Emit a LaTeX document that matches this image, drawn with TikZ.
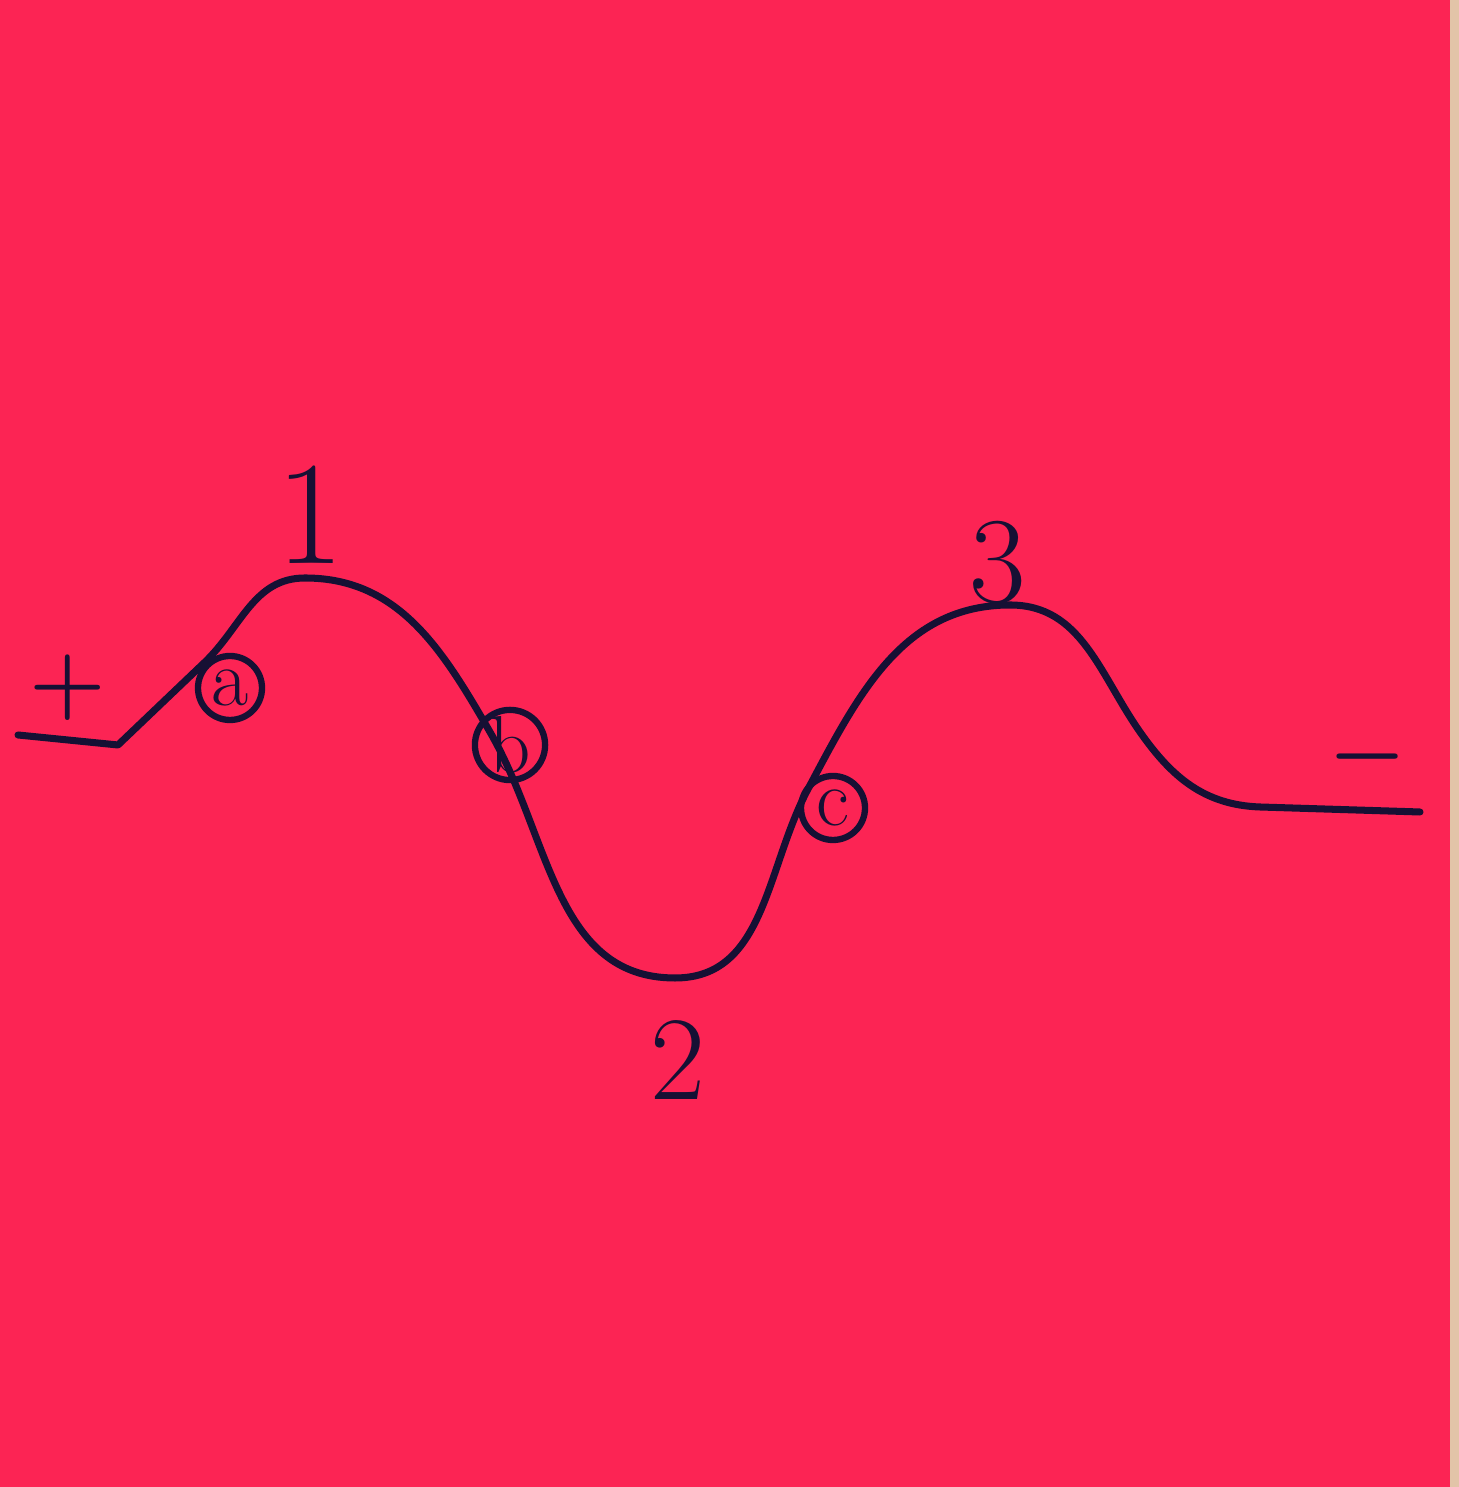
\documentclass[tikz,border=0pt]{standalone}
\usetikzlibrary{calc}

\definecolor{notered}{RGB}{252,36,84}
\definecolor{notetan}{RGB}{226,196,168}
\definecolor{ink}{RGB}{22,16,52}

\begin{document}
\begin{tikzpicture}[
  curve/.style={draw=ink,line width=2pt,line cap=round,line join=round},
  peaklabel/.style={font=\fontsize{38}{40}\selectfont,text=ink},
  sign/.style={font=\fontsize{24}{26}\selectfont\boldmath,text=ink},
  pin/.style={circle,draw=ink,line width=1.8pt,minimum size=0.64cm,inner sep=0pt,
    font=\fontsize{23}{24}\selectfont,text=ink},
]

% sticky note
\fill[notered] (0,0) rectangle (14.59,14.87);
\fill[notetan] (14.50,0) rectangle (14.59,14.87);

% the wave
\draw[curve] (0.18,7.52) -- (1.18,7.42) -- (2.05,8.25)
  to[out=44,in=180] (3.05,9.09)
  to[out=0,in=120] (4.90,7.55)
  to[out=-60,in=180] (6.75,5.09)
  to[out=0,in=-118] (8.08,6.98)
  to[out=62,in=180] (10.10,8.82)
  to[out=0,in=125] (11.40,7.55)
  to[out=-55,in=178] (12.60,6.80)
  -- (14.20,6.75);

% peaks and trough
\node[peaklabel,font=\fontsize{42}{44}\selectfont] (lbl1) at (3.10,9.72) {1};
\node[peaklabel,font=\fontsize{34}{36}\selectfont] (lbl2) at (6.78,4.27) {2};
\node[peaklabel,font=\fontsize{35}{36}\selectfont] (lbl3) at (9.98,9.24) {3};

% ends
\node[sign] (plus) at (0.68,7.99) {$+$};
\node[sign,font=\fontsize{30}{32}\selectfont\boldmath] (minus) at (13.68,7.30) {$-$};

% marked points
\node[pin] (pa) at (2.30,7.99) {a};
\node[pin] (pb) at (5.10,7.42) {b};
\node[pin] (pc) at (8.33,6.79) {c};

\end{tikzpicture}
\end{document}
